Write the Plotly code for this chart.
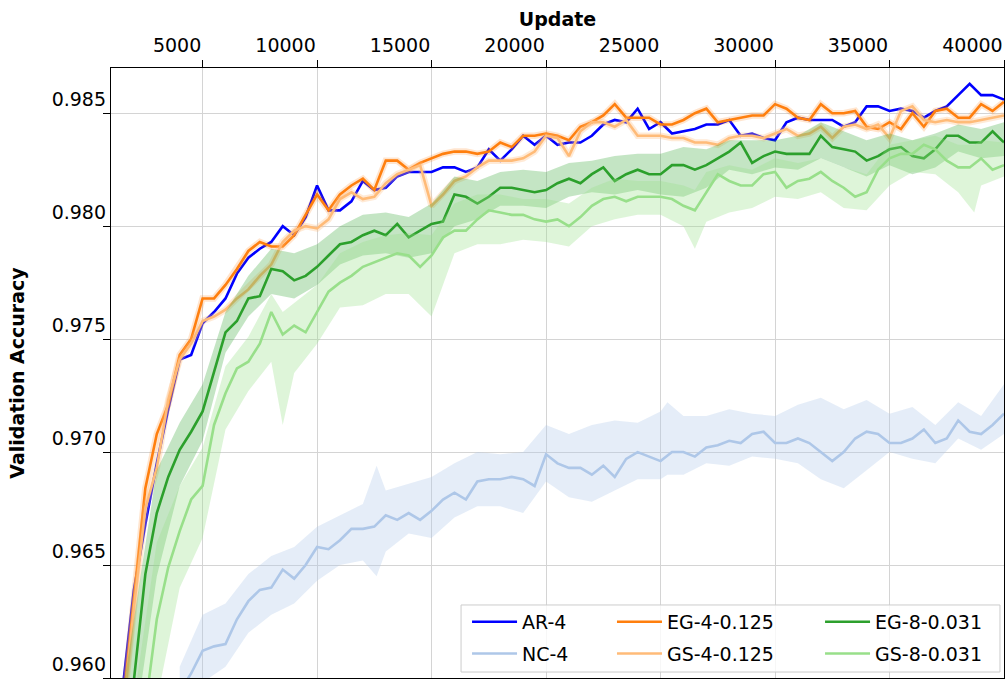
import plotly.graph_objects as go

# ---------------- data ----------------
STEP = 500  # spacing of evaluation updates

AR4_START = 1000
AR4 = [0.9550, 0.9596, 0.9639, 0.9668, 0.9695, 0.9719, 0.9741, 0.9743, 0.9757, 0.9762,
       0.9768, 0.9779, 0.9786, 0.9790, 0.9793, 0.9800, 0.9796, 0.9804, 0.9818, 0.9807,
       0.9807, 0.9811, 0.9820, 0.9816, 0.9817, 0.9822, 0.9824, 0.9824, 0.9824, 0.9826,
       0.9826, 0.9824, 0.9826, 0.9834, 0.9829, 0.9834, 0.9840, 0.9836, 0.9840, 0.9836,
       0.9837, 0.9837, 0.9840, 0.9845, 0.9847, 0.9846, 0.9852, 0.9843, 0.9846, 0.9841,
       0.9842, 0.9843, 0.9845, 0.9845, 0.9847, 0.9840, 0.9841, 0.9839, 0.9838, 0.9846,
       0.9848, 0.9847, 0.9847, 0.9847, 0.9844, 0.9846, 0.9853, 0.9853, 0.9851, 0.9852,
       0.9851, 0.9848, 0.9851, 0.9853, 0.9858, 0.9863, 0.9858, 0.9858, 0.9856]

NC4_START = 4000
NC4 = [0.9594, 0.9602, 0.9612, 0.9614, 0.9615, 0.9626, 0.9634, 0.9639, 0.9640, 0.9648,
       0.9644, 0.9650, 0.9658, 0.9657, 0.9661, 0.9666, 0.9666, 0.9667, 0.9672, 0.9670,
       0.9673, 0.9670, 0.9674, 0.9679, 0.9682, 0.9679, 0.9687, 0.9688, 0.9688, 0.9689,
       0.9688, 0.9685, 0.9699, 0.9695, 0.9693, 0.9693, 0.9690, 0.9694, 0.9689, 0.9697,
       0.9700, 0.9698, 0.9696, 0.9700, 0.9700, 0.9698, 0.9702, 0.9703, 0.9705, 0.9704,
       0.9708, 0.9709, 0.9704, 0.9704, 0.9706, 0.9704, 0.9700, 0.9696, 0.9700, 0.9706,
       0.9709, 0.9708, 0.9704, 0.9704, 0.9706, 0.9710, 0.9704, 0.9706, 0.9714, 0.9709,
       0.9708, 0.9712, 0.9717]
NC4_BAND_X = [4000, 5000, 6000, 7000, 8000, 9000, 10000, 11000, 12000, 12600, 13000,
              14000, 15000, 16000, 17000, 18000, 19000, 20000, 21000, 22000, 23000, 24000,
              25000, 25300, 26000, 27000, 28000, 29000, 30000, 31000, 32000, 33000, 34000,
              35000, 36000, 37000, 38000, 39000, 40000]
NC4_HI = [0.9605, 0.9628, 0.9633, 0.9646, 0.9654, 0.9658, 0.9667, 0.9672, 0.9677, 0.9694, 0.9683,
          0.9686, 0.9689, 0.9695, 0.9700, 0.9699, 0.9700, 0.9712, 0.9708, 0.9712, 0.9714, 0.9713,
          0.9718, 0.9722, 0.9716, 0.9716, 0.9719, 0.9717, 0.9716, 0.9721, 0.9724, 0.9719, 0.9723,
          0.9717, 0.9720, 0.9712, 0.9722, 0.9716, 0.9730]
NC4_LO = [0.9585, 0.9598, 0.9605, 0.9620, 0.9628, 0.9633, 0.9643, 0.9650, 0.9652, 0.9645, 0.9656,
          0.9664, 0.9662, 0.9671, 0.9676, 0.9676, 0.9673, 0.9687, 0.9680, 0.9678, 0.9683, 0.9688,
          0.9688, 0.9690, 0.9690, 0.9695, 0.9694, 0.9698, 0.9697, 0.9695, 0.9688, 0.9684, 0.9692,
          0.9700, 0.9697, 0.9695, 0.9706, 0.9701, 0.9708]

EG4_START = 1000
EG4 = [0.9550, 0.9585, 0.9635, 0.9684, 0.9708, 0.9721, 0.9743, 0.9750, 0.9768, 0.9768,
       0.9774, 0.9781, 0.9789, 0.9793, 0.9791, 0.9791, 0.9796, 0.9805, 0.9814, 0.9807,
       0.9814, 0.9818, 0.9821, 0.9816, 0.9829, 0.9829, 0.9825, 0.9828, 0.9830, 0.9832,
       0.9833, 0.9833, 0.9832, 0.9833, 0.9837, 0.9835, 0.9840, 0.9840, 0.9841, 0.9840,
       0.9838, 0.9844, 0.9846, 0.9849, 0.9854, 0.9848, 0.9848, 0.9848, 0.9845, 0.9845,
       0.9847, 0.9850, 0.9852, 0.9846, 0.9847, 0.9848, 0.9849, 0.9849, 0.9854, 0.9852,
       0.9848, 0.9847, 0.9854, 0.9850, 0.9850, 0.9851, 0.9844, 0.9843, 0.9846, 0.9843,
       0.9850, 0.9844, 0.9851, 0.9852, 0.9848, 0.9848, 0.9854, 0.9851, 0.9855]

GS4_START = 1000
GS4 = [0.9550, 0.9582, 0.9631, 0.9675, 0.9693, 0.9723, 0.9741, 0.9748, 0.9758, 0.9760,
       0.9763, 0.9768, 0.9772, 0.9778, 0.9783, 0.9793, 0.9798, 0.9800, 0.9799, 0.9803,
       0.9812, 0.9815, 0.9812, 0.9813, 0.9819, 0.9823, 0.9825, 0.9827, 0.9809, 0.9814,
       0.9820, 0.9822, 0.9826, 0.9829, 0.9829, 0.9829, 0.9830, 0.9833, 0.9840, 0.9839,
       0.9831, 0.9842, 0.9846, 0.9846, 0.9844, 0.9847, 0.9840, 0.9840, 0.9840, 0.9839,
       0.9839, 0.9837, 0.9837, 0.9836, 0.9839, 0.9840, 0.9840, 0.9839, 0.9841, 0.9843,
       0.9840, 0.9841, 0.9844, 0.9839, 0.9844, 0.9845, 0.9843, 0.9845, 0.9839, 0.9851,
       0.9853, 0.9847, 0.9846, 0.9847, 0.9846, 0.9846, 0.9847, 0.9848, 0.9849]

EG8_START = 1000
EG8 = [0.9505, 0.9553, 0.9601, 0.9646, 0.9673, 0.9689, 0.9701, 0.9709, 0.9718, 0.9736,
       0.9753, 0.9758, 0.9768, 0.9769, 0.9781, 0.9780, 0.9776, 0.9778, 0.9782, 0.9787,
       0.9792, 0.9793, 0.9796, 0.9798, 0.9796, 0.9801, 0.9795, 0.9798, 0.9801, 0.9802,
       0.9814, 0.9813, 0.9810, 0.9813, 0.9817, 0.9817, 0.9816, 0.9815, 0.9816, 0.9819,
       0.9821, 0.9819, 0.9823, 0.9826, 0.9820, 0.9823, 0.9825, 0.9823, 0.9823, 0.9827,
       0.9827, 0.9825, 0.9827, 0.9830, 0.9833, 0.9837, 0.9828, 0.9831, 0.9833, 0.9832,
       0.9832, 0.9832, 0.9840, 0.9835, 0.9834, 0.9833, 0.9829, 0.9831, 0.9834, 0.9835,
       0.9831, 0.9830, 0.9834, 0.9840, 0.9840, 0.9837, 0.9837, 0.9842, 0.9837]
EG8_BAND_X = [1000, 2000, 3000, 4000, 5000, 6000, 7000, 8000, 9000, 10000,
              11000, 12000, 13000, 14000, 15000, 16000, 17000, 18000, 19000, 20000,
              21000, 22000, 23000, 24000, 25000, 26000, 27000, 28000, 29000, 30000,
              31000, 32000, 33000, 34000, 35000, 36000, 37000, 38000, 39000, 40000]
EG8_HI = [0.9560, 0.9625, 0.9692, 0.9713, 0.9730, 0.9762, 0.9778, 0.9790, 0.9788, 0.9792,
          0.9800, 0.9805, 0.9806, 0.9804, 0.9810, 0.9822, 0.9820, 0.9824, 0.9825, 0.9824,
          0.9828, 0.9829, 0.9831, 0.9832, 0.9832, 0.9835, 0.9834, 0.9838, 0.9838, 0.9838,
          0.9840, 0.9846, 0.9842, 0.9838, 0.9841, 0.9838, 0.9841, 0.9845, 0.9843, 0.9846]
EG8_LO = [0.9450, 0.9575, 0.9645, 0.9685, 0.9705, 0.9744, 0.9760, 0.9770, 0.9768, 0.9774,
          0.9783, 0.9787, 0.9788, 0.9786, 0.9788, 0.9800, 0.9803, 0.9809, 0.9809, 0.9808,
          0.9813, 0.9815, 0.9814, 0.9816, 0.9814, 0.9813, 0.9817, 0.9825, 0.9823, 0.9826,
          0.9825, 0.9830, 0.9826, 0.9822, 0.9827, 0.9823, 0.9826, 0.9833, 0.9830, 0.9831]

GS8_START = 1000
GS8 = [0.9470, 0.9510, 0.9555, 0.9587, 0.9626, 0.9649, 0.9665, 0.9679, 0.9685, 0.9712,
       0.9726, 0.9737, 0.9740, 0.9748, 0.9762, 0.9752, 0.9756, 0.9753, 0.9762, 0.9771,
       0.9775, 0.9778, 0.9782, 0.9784, 0.9786, 0.9788, 0.9787, 0.9782, 0.9787, 0.9795,
       0.9798, 0.9798, 0.9803, 0.9807, 0.9806, 0.9805, 0.9805, 0.9803, 0.9802, 0.9803,
       0.9800, 0.9804, 0.9809, 0.9812, 0.9813, 0.9811, 0.9813, 0.9813, 0.9813, 0.9812,
       0.9809, 0.9807, 0.9815, 0.9823, 0.9820, 0.9818, 0.9818, 0.9823, 0.9824, 0.9817,
       0.9820, 0.9821, 0.9824, 0.9820, 0.9817, 0.9813, 0.9815, 0.9825, 0.9830, 0.9832,
       0.9832, 0.9836, 0.9834, 0.9829, 0.9826, 0.9826, 0.9830, 0.9825, 0.9827]
GS8_BAND_X = [1000, 2000, 3000, 4000, 5000, 6000, 7000, 8000, 8500, 9000,
              10000, 11000, 12000, 13000, 14000, 15000, 16000, 17000, 18000, 19000,
              20000, 21000, 22000, 23000, 24000, 25000, 26000, 26500, 27000, 28000,
              29000, 30000, 31000, 32000, 33000, 34000, 35000, 36000, 37000, 38000,
              38700, 39000, 40000]
GS8_HI = [0.9500, 0.9590, 0.9660, 0.9685, 0.9702, 0.9738, 0.9751, 0.9770, 0.9762, 0.9766,
          0.9774, 0.9788, 0.9793, 0.9796, 0.9797, 0.9796, 0.9810, 0.9814, 0.9814, 0.9812,
          0.9812, 0.9810, 0.9817, 0.9821, 0.9820, 0.9820, 0.9818, 0.9816, 0.9824, 0.9827,
          0.9825, 0.9830, 0.9828, 0.9830, 0.9826, 0.9823, 0.9836, 0.9838, 0.9840, 0.9836,
          0.9836, 0.9838, 0.9837]
GS8_LO = [0.9400, 0.9520, 0.9590, 0.9640, 0.9662, 0.9710, 0.9727, 0.9740, 0.9712, 0.9735,
          0.9748, 0.9764, 0.9765, 0.9770, 0.9770, 0.9760, 0.9788, 0.9792, 0.9792, 0.9794,
          0.9793, 0.9791, 0.9800, 0.9803, 0.9805, 0.9805, 0.9800, 0.9790, 0.9802, 0.9806,
          0.9808, 0.9813, 0.9812, 0.9815, 0.9808, 0.9807, 0.9818, 0.9824, 0.9823, 0.9815,
          0.9806, 0.9818, 0.9822]

X_TICKS = [5000, 10000, 15000, 20000, 25000, 30000, 35000, 40000]
Y_TICKS = [0.960, 0.965, 0.970, 0.975, 0.980, 0.985]

# ---------------- styling ----------------
FONT = "DejaVu Sans"
C_AR4 = "#0000ff"
C_NC4 = "#aec7e8"
C_EG4 = "#ff7f0e"
C_GS4 = "#ffbb78"
C_EG8 = "#2ca02c"
C_GS8 = "#98df8a"
LW = 2.6


def xs(start, n):
    return list(range(start, start + STEP * n, STEP))


fig = go.Figure()


def add_band(bx, lo, hi, fill):
    fig.add_trace(go.Scatter(
        x=list(bx) + list(bx)[::-1], y=list(hi) + list(lo)[::-1],
        fill="toself", fillcolor=fill, mode="lines", line=dict(width=0),
        hoverinfo="skip", showlegend=False))


def add_halo(x, y, color):
    fig.add_trace(go.Scatter(x=x, y=y, mode="lines",
                             line=dict(color=color, width=6.5),
                             hoverinfo="skip", showlegend=False))


def add_line(x, y, color, name, legend):
    fig.add_trace(go.Scatter(x=x, y=y, mode="lines", name=name,
                             line=dict(color=color, width=LW),
                             legend=legend, legendgroup=name))


# AR-4
add_line(xs(AR4_START, len(AR4)), AR4, C_AR4, "AR-4", "legend")
# NC-4
add_band(NC4_BAND_X, NC4_LO, NC4_HI, "rgba(174,199,232,0.32)")
add_line(xs(NC4_START, len(NC4)), NC4, C_NC4, "NC-4", "legend")
# EG-4-0.125
x_eg4 = xs(EG4_START, len(EG4))
add_halo(x_eg4, EG4, "rgba(255,127,14,0.2)")
add_line(x_eg4, EG4, C_EG4, "EG-4-0.125", "legend2")
# GS-4-0.125
x_gs4 = xs(GS4_START, len(GS4))
add_halo(x_gs4, GS4, "rgba(255,187,120,0.3)")
add_line(x_gs4, GS4, C_GS4, "GS-4-0.125", "legend2")
# EG-8-0.031
add_band(EG8_BAND_X, EG8_LO, EG8_HI, "rgba(44,160,44,0.28)")
add_line(xs(EG8_START, len(EG8)), EG8, C_EG8, "EG-8-0.031", "legend3")
# GS-8-0.031
add_band(GS8_BAND_X, GS8_LO, GS8_HI, "rgba(152,223,138,0.32)")
add_line(xs(GS8_START, len(GS8)), GS8, C_GS8, "GS-8-0.031", "legend3")

legend_common = dict(
    xanchor="left", yanchor="top", y=0.123,
    bgcolor="rgba(0,0,0,0)", borderwidth=0,
    font=dict(family=FONT, size=19, color="black"),
    tracegroupgap=4, itemwidth=45, orientation="v",
)

fig.update_layout(
    width=1008, height=679,
    margin=dict(l=111, r=4, t=68, b=1, pad=0),
    paper_bgcolor="white", plot_bgcolor="white",
    font=dict(family=FONT, size=19, color="black"),
    legend=dict(x=0.3987, **legend_common),
    legend2=dict(x=0.561, **legend_common),
    legend3=dict(x=0.794, **legend_common),
    xaxis=dict(
        side="top", range=[1000, 40000], tickvals=X_TICKS,
        ticktext=[str(v) for v in X_TICKS], ticklabelposition="outside left",
        ticklabelstandoff=7,
        ticks="outside", ticklen=7, tickwidth=1.3, tickcolor="black",
        showline=True, linecolor="black", linewidth=1.3, mirror=True,
        showgrid=True, gridcolor="#d4d4d4", gridwidth=1, zeroline=False,
        tickfont=dict(family=FONT, size=19, color="black"),
        title=dict(text="<b>Update</b>", font=dict(family=FONT, size=19, color="black"),
                   standoff=2),
    ),
    yaxis=dict(
        range=[0.960, 0.987], tickvals=Y_TICKS,
        ticktext=[f"{v:.3f}" for v in Y_TICKS], ticklabelposition="outside top",
        ticks="outside", ticklen=7, tickwidth=1.3, tickcolor="black",
        showline=True, linecolor="black", linewidth=1.3, mirror=True,
        showgrid=True, gridcolor="#d4d4d4", gridwidth=1, zeroline=False,
        tickfont=dict(family=FONT, size=19, color="black"),
        title=dict(text="<b>Validation Accuracy</b>",
                   font=dict(family=FONT, size=19, color="black"), standoff=21),
    ),
    shapes=[dict(type="rect", xref="paper", yref="paper",
                 x0=0.392, x1=0.9955, y0=0.0098, y1=0.1197,
                 line=dict(color="#cccccc", width=1),
                 fillcolor="rgba(255,255,255,0.8)", layer="above")],
)

fig.write_html("out.html", config={"displayModeBar": False},
               post_script="document.body.style.margin='0px';")
